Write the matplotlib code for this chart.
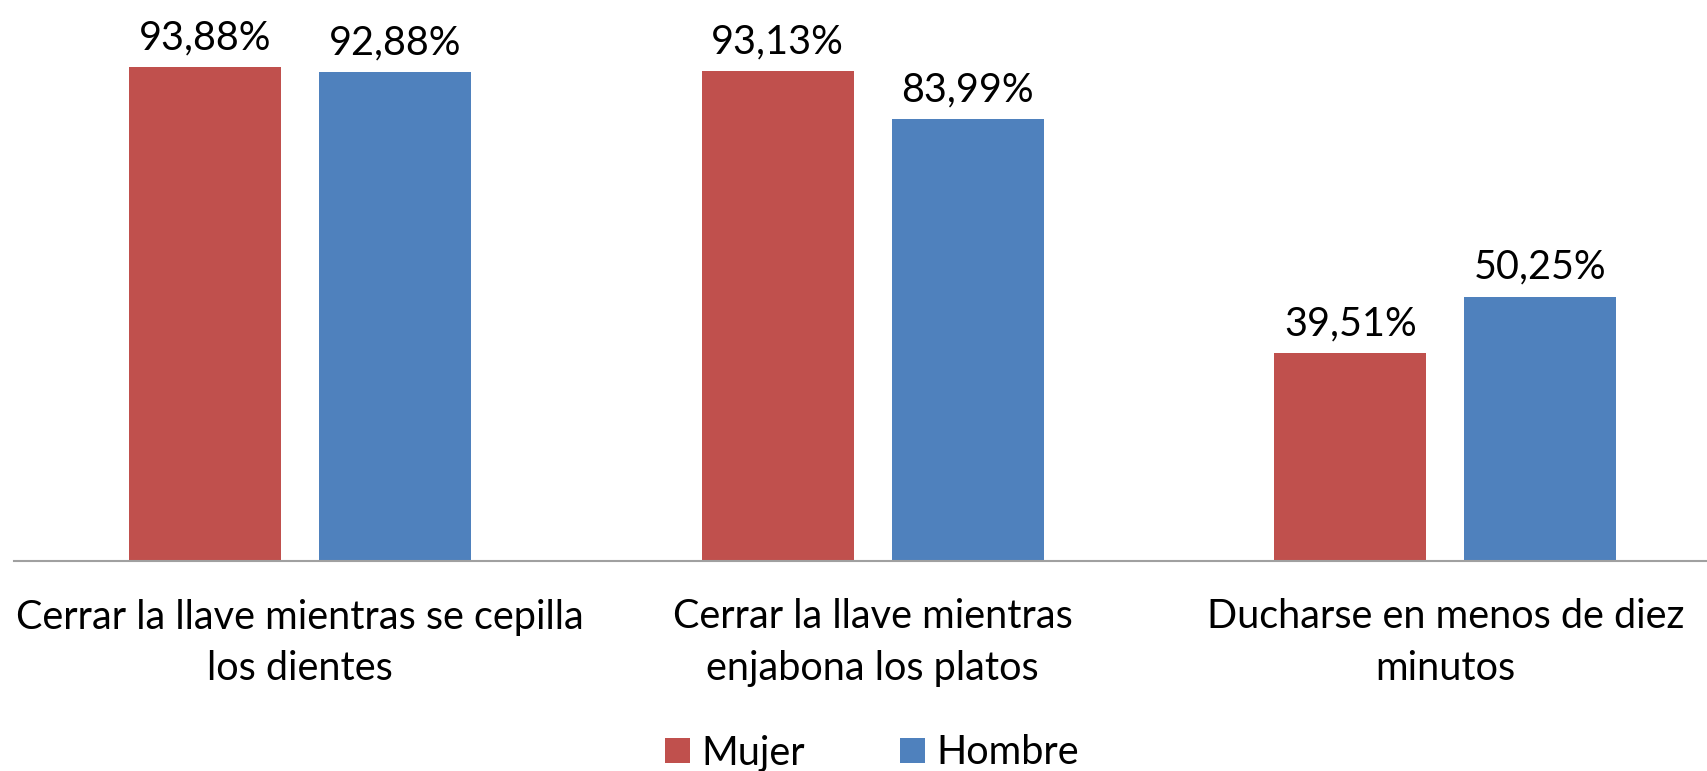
import matplotlib.pyplot as plt
import numpy as np

categories = [
    "Cerrar la llave mientras se cepilla\nlos dientes",
    "Cerrar la llave mientras\nenjabona los platos",
    "Ducharse en menos de diez\nminutos",
]
mujer = [93.88, 93.13, 39.51]
hombre = [92.88, 83.99, 50.25]
series_names = ["Mujer", "Hombre"]

plt.rcParams["font.family"] = ["Lato", "DejaVu Sans"]
fs = 28.5

fig = plt.figure(figsize=(17.08, 7.71), dpi=100)
# axes runs past the right edge, as in the cropped original
ax = fig.add_axes([14 / 1708, 210 / 771, 1717.5 / 1708, (561 - 35) / 771])

x = np.arange(len(categories))
width = 0.266
offset = 0.166
bars_m = ax.bar(x - offset, mujer, width, color="#C0504D", label=series_names[0])
bars_h = ax.bar(x + offset, hombre, width, color="#4F81BD", label=series_names[1])

for bars, vals in [(bars_m, mujer), (bars_h, hombre)]:
    for b, v in zip(bars, vals):
        ax.annotate(f"{v:.2f}%".replace(".", ","),
                    (b.get_x() + b.get_width() / 2, v),
                    xytext=(0, 8), textcoords="offset points",
                    ha="center", va="bottom", fontsize=fs)

ax.set_xlim(-0.5, 2.5)
ax.set_ylim(0, 100)
ax.set_xticks(x)
ax.set_xticklabels(categories, fontsize=fs, linespacing=1.48)
ax.tick_params(axis="x", length=0, pad=27)
ax.set_yticks([])
for s in ["top", "right", "left"]:
    ax.spines[s].set_visible(False)
ax.spines["bottom"].set_color("#A0A0A0")
ax.spines["bottom"].set_linewidth(1.5)

fig.legend(loc="center", bbox_to_anchor=(872 / 1708, 1 - 753 / 771),
           ncol=2, frameon=False, fontsize=fs,
           handlelength=0.62, handleheight=0.62,
           handletextpad=0.3, columnspacing=2.4)

fig.savefig("out.png", dpi=100)
